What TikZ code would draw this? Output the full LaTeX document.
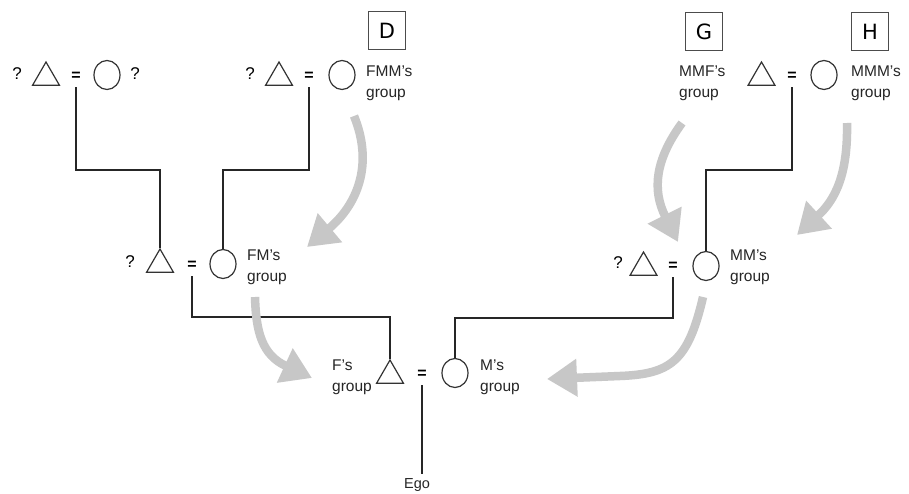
\documentclass[tikz,border=0pt]{standalone}
\usepackage{fontspec}
\setmainfont{Liberation Sans}
\newfontfamily\boxfont{DejaVu Sans}
\usetikzlibrary{shapes.geometric,arrows.meta}

\begin{document}
\begin{tikzpicture}[x=1pt,y=-1pt,
  kin/.style={draw=black!85, line width=1.2pt},
  male/.style={regular polygon, regular polygon sides=3, draw=black!80,
    line width=1.2pt, minimum size=31pt, inner sep=0pt},
  female/.style={ellipse, draw=black!80, line width=1.2pt,
    minimum width=26pt, minimum height=29pt, inner sep=0pt},
  eq/.style={inner sep=0pt, minimum height=22pt, font=\bfseries\fontsize{16}{16}\selectfont},
  qmark/.style={inner sep=0pt, font=\fontsize{17}{17}\selectfont},
  grp/.style={inner sep=0pt, align=left, text=black!85,
    font=\fontsize{15.5}{21}\selectfont},
  letterbox/.style={draw=black!70, line width=1pt, minimum width=37pt,
    minimum height=38pt, inner sep=0pt, font=\boxfont\fontsize{21}{21}\selectfont},
  flow/.style={draw=black!22, line width=8.5pt, -{Triangle[length=30pt,width=36pt]}}
]
\fill[white] (0,0) rectangle (909,494);
\useasboundingbox (0,0) rectangle (909,494);

% generation of the great-grandparents
\node[qmark] (q1) at (17,74) {?};
\node[male] (T1) at (46,77.5) {};
\node[eq] (E1) at (76,76) {=};
\node[female] (C1) at (107,75) {};
\node[qmark] (q2) at (135,74) {?};

\node[qmark] (q3) at (250,74) {?};
\node[male] (T2) at (279,77.5) {};
\node[eq] (E2) at (309,76) {=};
\node[female] (C2) at (342,75) {};
\node[grp, anchor=west] (FMM) at (366,83) {FMM’s\\group};
\node[letterbox] (D) at (387,31) {D};

\node[grp, anchor=west] (MMF) at (679,83) {MMF’s\\group};
\node[male] (T3) at (761.5,77.5) {};
\node[eq] (E3) at (792,76) {=};
\node[female] (C3) at (824,75) {};
\node[grp, anchor=west] (MMM) at (851,83) {MMM’s\\group};
\node[letterbox] (G) at (704,32) {G};
\node[letterbox] (H) at (870,32) {H};

% generation of the grandparents
\node[qmark] (q4) at (130,262) {?};
\node[male] (T4) at (160,264.5) {};
\node[eq] (E4) at (192,265) {=};
\node[female] (C4) at (223,264) {};
\node[grp, anchor=west] (FM) at (247,267) {FM’s\\group};

\node[qmark] (q5) at (618,263) {?};
\node[male] (T5) at (643.5,267.5) {};
\node[eq] (E5) at (673,266) {=};
\node[female] (C5) at (706,266) {};
\node[grp, anchor=west] (MM) at (730,267) {MM’s\\group};

% parents and Ego
\node[grp, anchor=east] (F) at (372,377) {F’s\\group};
\node[male] (T6) at (390,375.5) {};
\node[eq] (E6) at (422,374) {=};
\node[female] (C6) at (455,373) {};
\node[grp, anchor=west] (M) at (480,377) {M’s\\group};
\node[grp, inner sep=4pt, font=\fontsize{14.5}{16}\selectfont] (ego) at (417,485) {Ego};

% descent lines
\coordinate (barA) at (0,170);
\coordinate (barB) at (0,317);
\coordinate (barC) at (0,318);
\draw[kin] (E1.south) -- (E1.south |- barA) -| (T4.north);
\draw[kin] (E2.south) -- (E2.south |- barA) -| (C4.north);
\draw[kin] (E3.south) -- (E3.south |- barA) -| (C5.north);
\draw[kin] (E4.south) -- (E4.south |- barB) -| (T6.north);
\draw[kin] (E5.south) -- (E5.south |- barC) -| (C6.north);
\draw[kin] (E6.south) -- (E6.south |- ego.north);

% group transmission arrows
\draw[flow] (354,116) .. controls (374,165) and (357,205) .. (307,247);
\draw[flow] (255,297) .. controls (256,332) and (262,355) .. (312,378);
\draw[flow] (703,297) .. controls (688,362) and (670,374) .. (620,376) -- (547,379);
\draw[flow] (682,123) .. controls (655,160) and (652,190) .. (678,242);
\draw[flow] (847,123) .. controls (848,175) and (835,200) .. (797,235);
\end{tikzpicture}
\end{document}
